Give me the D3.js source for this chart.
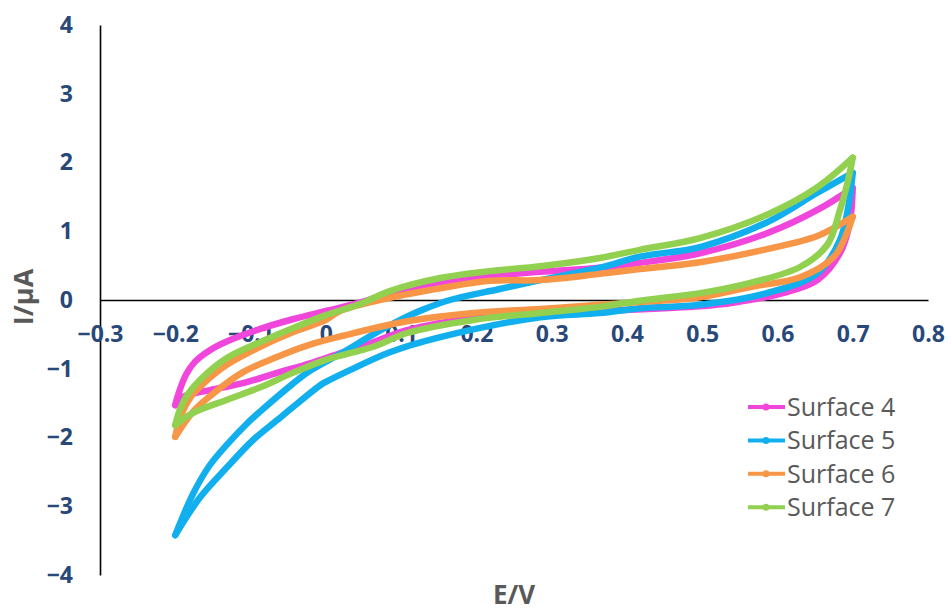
<!DOCTYPE html>
<html>
<head>
<meta charset="utf-8">
<script src="https://cdn.jsdelivr.net/npm/d3@7"></script>
<style>
  body { margin: 0; background: #fff; }
  text { font-family: "Open Sans", "Liberation Sans", sans-serif; }
</style>
</head>
<body>
<svg id="chart" width="952" height="614"></svg>
<script>
var width = 952;
var height = 614;

var xTicks = [-0.3, -0.2, -0.1, 0, 0.1, 0.2, 0.3, 0.4, 0.5, 0.6, 0.7, 0.8];
var yTicks = [-4, -3, -2, -1, 0, 1, 2, 3, 4];

var seriesNames = ["Surface 4", "Surface 5", "Surface 6", "Surface 7"];
var colors = ["#F046DC", "#12AFEE", "#F79646", "#92D050"];

// each loop: upper branch (-0.2 -> 0.7) and lower branch (-0.2 -> 0.7), [E, I]
var surface4Upper = [[-0.200,-1.53],[-0.195,-1.34],[-0.186,-1.09],[-0.174,-0.90],[-0.154,-0.73],[-0.131,-0.60],
    [-0.087,-0.42],[-0.044,-0.28],[0.000,-0.16],[0.045,-0.04],[0.085,0.10],[0.152,0.26],[0.218,0.35],
    [0.285,0.41],[0.364,0.47],[0.417,0.54],[0.497,0.68],[0.586,0.97],[0.653,1.31],[0.700,1.63]];
var surface4Lower = [[-0.200,-1.53],[-0.190,-1.41],[-0.154,-1.31],[-0.110,-1.21],[-0.065,-1.06],[-0.021,-0.92],
    [0.023,-0.76],[0.045,-0.69],[0.108,-0.44],[0.196,-0.26],[0.285,-0.20],[0.364,-0.16],[0.497,-0.09],
    [0.541,-0.04],[0.607,0.10],[0.653,0.29],[0.683,0.68],[0.696,1.12],[0.700,1.63]];

var surface5Upper = [[-0.200,-3.42],[-0.176,-2.81],[-0.154,-2.40],[-0.131,-2.10],[-0.105,-1.80],[-0.087,-1.62],
    [-0.044,-1.22],[-0.021,-1.03],[0.023,-0.76],[0.063,-0.50],[0.099,-0.29],[0.129,-0.14],[0.165,0.00],
    [0.231,0.16],[0.285,0.29],[0.364,0.47],[0.417,0.63],[0.497,0.77],[0.586,1.13],[0.653,1.56],[0.700,1.85]];
var surface5Lower = [[-0.200,-3.42],[-0.167,-2.87],[-0.131,-2.43],[-0.097,-2.04],[-0.065,-1.75],[-0.044,-1.56],
    [-0.006,-1.23],[0.002,-1.18],[0.032,-1.02],[0.085,-0.76],[0.152,-0.54],[0.285,-0.25],[0.364,-0.19],
    [0.417,-0.12],[0.497,-0.07],[0.586,0.10],[0.653,0.39],[0.683,0.87],[0.694,1.35],[0.700,1.85]];

var surface6Upper = [[-0.200,-1.99],[-0.192,-1.67],[-0.180,-1.42],[-0.162,-1.21],[-0.131,-0.94],[-0.087,-0.68],
    [-0.044,-0.47],[0.000,-0.29],[0.019,-0.16],[0.085,0.03],[0.152,0.17],[0.218,0.28],[0.285,0.29],
    [0.364,0.38],[0.417,0.45],[0.497,0.55],[0.586,0.74],[0.653,0.93],[0.700,1.21]];
var surface6Lower = [[-0.200,-1.99],[-0.176,-1.62],[-0.154,-1.40],[-0.110,-1.05],[-0.065,-0.83],[-0.021,-0.65],
    [0.023,-0.52],[0.108,-0.31],[0.196,-0.19],[0.285,-0.13],[0.364,-0.07],[0.417,-0.03],[0.497,0.04],
    [0.564,0.19],[0.630,0.33],[0.675,0.63],[0.692,0.97],[0.700,1.21]];

var surface7Upper = [[-0.200,-1.82],[-0.194,-1.60],[-0.184,-1.38],[-0.167,-1.16],[-0.131,-0.84],[-0.087,-0.61],
    [-0.044,-0.41],[0.000,-0.22],[0.045,-0.06],[0.085,0.13],[0.152,0.32],[0.218,0.42],[0.285,0.49],
    [0.364,0.61],[0.417,0.73],[0.497,0.90],[0.586,1.24],[0.653,1.64],[0.700,2.07]];
var surface7Lower = [[-0.200,-1.82],[-0.176,-1.64],[-0.131,-1.45],[-0.087,-1.27],[-0.044,-1.06],[0.000,-0.87],
    [0.063,-0.68],[0.108,-0.48],[0.196,-0.29],[0.285,-0.19],[0.364,-0.10],[0.417,-0.01],[0.497,0.10],
    [0.564,0.25],[0.630,0.48],[0.666,0.80],[0.683,1.31],[0.694,1.75],[0.700,2.07]];

var loops = [
    [surface4Upper, surface4Lower],
    [surface5Upper, surface5Lower],
    [surface6Upper, surface6Lower],
    [surface7Upper, surface7Lower]
];

var svg = d3.select("#chart");

var xScale = d3.scaleLinear().domain([-0.3, 0.8]).range([100, 928]);
var yScale = d3.scaleLinear().domain([-4, 4]).range([575, 25]);

var tickColor = "#284879";
var titleColor = "#595959";

// axes (no tick marks, just the lines and labels)
var yAxis = d3.axisLeft(yScale).tickValues(yTicks).tickSize(0).tickPadding(27)
    .tickFormat(d3.format("d"));
var yAxisG = svg.append("g")
    .attr("transform", "translate(" + xScale(-0.3) + ",0)")
    .call(yAxis);
yAxisG.select(".domain").attr("stroke", "#000").attr("stroke-width", 1.6);
yAxisG.selectAll("text")
    .attr("fill", tickColor)
    .style("font-size", "23px")
    .style("font-weight", "bold")
    .style("font-family", "'Open Sans', sans-serif");

var xAxis = d3.axisBottom(xScale).tickValues(xTicks).tickSize(0).tickPadding(26)
    .tickFormat(function(d) { return d === 0 ? "0" : d3.format(".1f")(d); });
var xAxisG = svg.append("g")
    .attr("transform", "translate(0," + yScale(0) + ")")
    .call(xAxis);
xAxisG.select(".domain").attr("stroke", "#000").attr("stroke-width", 1.6);
xAxisG.selectAll("text")
    .attr("fill", tickColor)
    .style("font-size", "23px")
    .style("font-weight", "bold")
    .style("font-family", "'Open Sans', sans-serif");

// loops
var line = d3.line()
    .x(function(d) { return xScale(d[0]); })
    .y(function(d) { return yScale(d[1]); })
    .curve(d3.curveCatmullRom.alpha(0.5));

var plot = svg.append("g").attr("class", "plot");
loops.forEach(function(branches, i) {
    var g = plot.append("g").attr("class", "series s" + i);
    branches.forEach(function(branch) {
        g.append("path")
            .attr("d", line(branch))
            .attr("fill", "none")
            .attr("stroke", colors[i])
            .attr("stroke-width", 6.5)
            .attr("stroke-linecap", "round")
            .attr("stroke-linejoin", "round");
    });
});

// axis titles
svg.append("text")
    .attr("transform", "translate(33," + 297 + ") rotate(-90)")
    .attr("text-anchor", "middle")
    .attr("fill", titleColor)
    .style("font-size", "27px")
    .style("font-weight", "bold")
    .text("I/μA");

svg.append("text")
    .attr("x", (xScale(-0.3) + xScale(0.8)) / 2)
    .attr("y", 604)
    .attr("text-anchor", "middle")
    .attr("fill", titleColor)
    .style("font-size", "26px")
    .style("font-weight", "bold")
    .text("E/V");

// legend
var legend = svg.append("g").attr("class", "legend");
seriesNames.forEach(function(name, i) {
    var y = 407 + i * 33.4;
    legend.append("line")
        .attr("x1", 748).attr("x2", 785)
        .attr("y1", y).attr("y2", y)
        .attr("stroke", colors[i])
        .attr("stroke-width", 4);
    legend.append("circle")
        .attr("cx", 766).attr("cy", y).attr("r", 3.5)
        .attr("fill", colors[i]);
    legend.append("text")
        .attr("x", 787).attr("y", y)
        .attr("dy", "0.36em")
        .attr("fill", titleColor)
        .style("font-size", "25px")
        .text(name);
});
</script>
</body>
</html>
